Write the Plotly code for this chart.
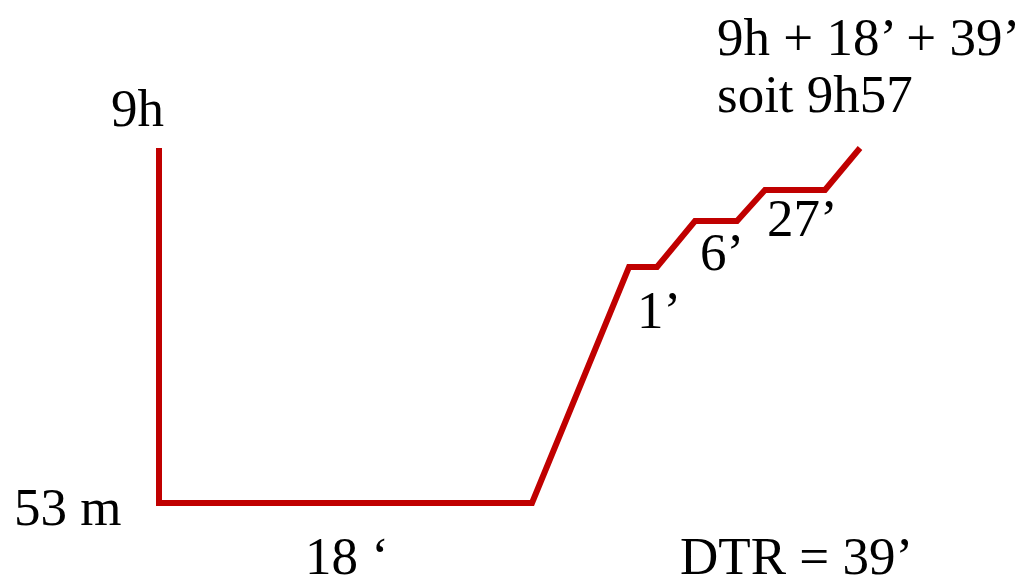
import plotly.graph_objects as go

# Dive profile (schematic units: horizontal = time axis, vertical = depth axis, drawing units)
profile_x = [159, 159, 532, 629, 657, 695, 737, 765, 825, 860]
profile_y = [148, 503, 503, 267, 267, 221, 221, 190, 190, 148]

# Labels: text, x (left edge), y (baseline)
label_text = ["9h", "9h + 18’ + 39’", "soit 9h57", "53 m", "18 ‘", "1’", "6’", "27’", "DTR = 39’"]
label_x = [110, 716, 716, 13, 304, 636, 699, 766, 679]
label_y = [126, 55, 112, 525, 574, 328, 270, 236, 574]

FONT_SIZE = 53
RED = "#C00000"
PAGE_OFFSET = 8  # default body margin of the html page

fig = go.Figure()
fig.add_trace(go.Scatter(
    x=profile_x, y=profile_y, mode="lines",
    line=dict(color=RED, width=6), hoverinfo="skip", showlegend=False,
))

offset = (0.891 - 0.216) / 2 * FONT_SIZE
for t, x, y in zip(label_text, label_x, label_y):
    fig.add_annotation(
        x=x, y=y - offset, text=t, showarrow=False,
        xanchor="left", yanchor="middle", xref="x", yref="y",
        font=dict(family="Liberation Serif", size=FONT_SIZE, color="black"),
        borderpad=0,
    )

fig.update_layout(
    width=1035, height=586,
    margin=dict(l=0, r=0, t=0, b=0),
    paper_bgcolor="white", plot_bgcolor="white",
    xaxis=dict(range=[PAGE_OFFSET, 1035 + PAGE_OFFSET], visible=False, fixedrange=True),
    yaxis=dict(range=[586 + PAGE_OFFSET, PAGE_OFFSET], visible=False, fixedrange=True),
)
fig.write_html("out.html", config={"displayModeBar": False})
